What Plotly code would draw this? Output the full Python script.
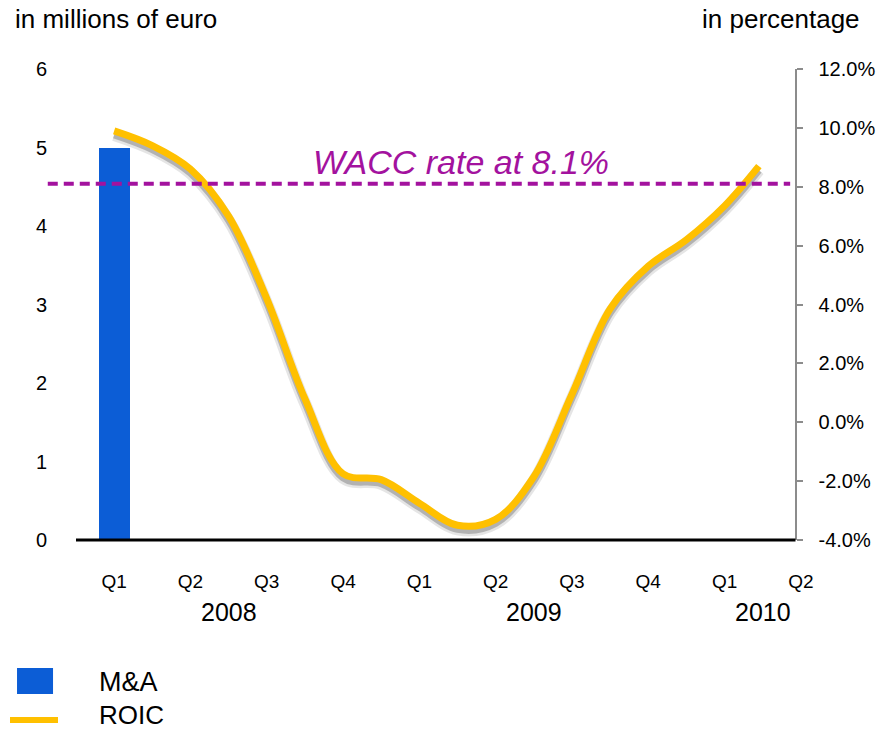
import plotly.graph_objects as go

# Quarter axis (positions 0..9 = Q1 2008 .. Q2 2010)
quarter_labels = ["Q1", "Q2", "Q3", "Q4", "Q1", "Q2", "Q3", "Q4", "Q1", "Q2"]
quarter_pos = list(range(len(quarter_labels)))
years = ["2008", "2009", "2010"]
year_centers = [1.5, 5.5, 8.5]

# M&A spend, millions of euro (left axis)
ma_values = [5.0, None, None, None, None, None, None, None, None, None]

# ROIC, percent (right axis), sampled every half quarter
roic_x = [0, 0.5, 1, 1.5, 2, 2.5, 3, 3.5, 4, 4.5, 5, 5.5, 6, 6.5, 7, 7.5, 8, 8.45]
roic_pct = [9.9, 9.4, 8.6, 7.0, 4.2, 0.8, -1.75, -1.95, -2.75, -3.5, -3.3, -1.85,
            0.95, 3.85, 5.3, 6.2, 7.35, 8.7]

# percentage axis ticks
pct_ticks = [-4, -2, 0, 2, 4, 6, 8, 10, 12]
pct_labels = [f"{v:.1f}%" for v in pct_ticks]

wacc = 8.1

FONT = "Arial, Liberation Sans, sans-serif"
BLUE = "#0C5DD6"
GOLD = "#FFC000"
PURPLE = "#A3129E"
GREY_AXIS = "#8C8C8C"

fig = go.Figure()

fig.add_trace(go.Bar(
    x=quarter_pos, y=ma_values, width=0.41, marker=dict(color=BLUE, line=dict(width=0)),
    name="M&A", xaxis="x", yaxis="y", showlegend=False, hoverinfo="skip",
))

# soft drop shadow under the ROIC curve (drawn on a slightly offset hidden axis)
fig.add_trace(go.Scatter(
    x=roic_x, y=roic_pct, mode="lines",
    line=dict(color="rgba(0,0,0,0.10)", width=12, shape="spline", smoothing=1.0),
    xaxis="x", yaxis="y2", showlegend=False, hoverinfo="skip",
))
fig.add_trace(go.Scatter(
    x=roic_x, y=roic_pct, mode="lines",
    line=dict(color="rgba(0,0,0,0.22)", width=7, shape="spline", smoothing=1.0),
    xaxis="x", yaxis="y2", showlegend=False, hoverinfo="skip",
))

fig.add_trace(go.Scatter(
    x=roic_x, y=roic_pct, mode="lines", name="ROIC",
    line=dict(color=GOLD, width=7, shape="spline", smoothing=1.0),
    xaxis="x", yaxis="y3", showlegend=False,
))

shadow_shift = 0.14  # percent units

fig.update_layout(
    width=878, height=731,
    margin=dict(l=76, r=39, t=69, b=191),
    paper_bgcolor="white", plot_bgcolor="white",
    font=dict(family=FONT, color="black"),
    xaxis=dict(
        domain=[0, 1], range=[-0.5, 9.5], automargin=False,
        tickmode="array", tickvals=quarter_pos, ticktext=quarter_labels,
        tickfont=dict(size=19), ticks="", ticklabelstandoff=28,
        showgrid=False, zeroline=False, showline=False,
    ),
    yaxis=dict(
        range=[0, 6], dtick=1, tickfont=dict(size=20), ticks="", automargin=False,
        ticklabelstandoff=28, showgrid=False, zeroline=False, showline=False,
    ),
    yaxis2=dict(
        overlaying="y", range=[-4 + shadow_shift, 12 + shadow_shift], visible=False,
    ),
    yaxis3=dict(
        overlaying="y", side="right", anchor="free", position=0.943, automargin=False,
        range=[-4, 12], tickmode="array", tickvals=pct_ticks, ticktext=pct_labels,
        tickfont=dict(size=20), ticks="outside", ticklen=6, tickwidth=2,
        tickcolor=GREY_AXIS, showline=True, linecolor=GREY_AXIS, linewidth=2,
        ticklabelstandoff=12, showgrid=False, zeroline=False,
    ),
    bargap=0,
)

shapes = [
    # category axis baseline, ending at the percentage axis
    dict(type="line", xref="x", yref="paper", x0=-0.5, x1=8.93, y0=0, y1=0,
         line=dict(color="black", width=3)),
    # WACC reference line
    dict(type="line", xref="paper", yref="y3", x0=-0.037, x1=0.936, y0=wacc, y1=wacc,
         line=dict(color=PURPLE, width=4, dash="10px,6px")),
    # legend keys
    dict(type="rect", xref="paper", yref="paper", x0=-0.0773, x1=-0.0301, y0=-0.327, y1=-0.272,
         fillcolor=BLUE, line=dict(width=0)),
    dict(type="line", xref="paper", yref="paper", x0=-0.0865, x1=-0.0236, y0=-0.382, y1=-0.382,
         line=dict(color=GOLD, width=6)),
]

annotations = [
    dict(text="in millions of euro", xref="paper", yref="paper", x=-0.082, y=1.106,
         xanchor="left", yanchor="middle", showarrow=False, font=dict(size=26)),
    dict(text="in percentage", xref="paper", yref="paper", x=1.030, y=1.106,
         xanchor="right", yanchor="middle", showarrow=False, font=dict(size=26)),
    dict(text=f"<i>WACC rate at {wacc}%</i>", xref="x", yref="y3", x=4.55, y=wacc,
         xanchor="center", yanchor="bottom", yshift=1, showarrow=False,
         font=dict(size=34, color=PURPLE)),
    dict(text="M&A", xref="paper", yref="paper", x=0.0275, y=-0.3015,
         xanchor="left", yanchor="middle", showarrow=False, font=dict(size=27)),
    dict(text="ROIC", xref="paper", yref="paper", x=0.0275, y=-0.372,
         xanchor="left", yanchor="middle", showarrow=False, font=dict(size=26)),
]
for label, cx in zip(years, year_centers):
    annotations.append(dict(text=label, xref="x", yref="paper", x=cx, y=-0.153,
                            xanchor="center", yanchor="middle", showarrow=False,
                            font=dict(size=25)))

fig.update_layout(shapes=shapes, annotations=annotations)

fig.write_html("out.html")
